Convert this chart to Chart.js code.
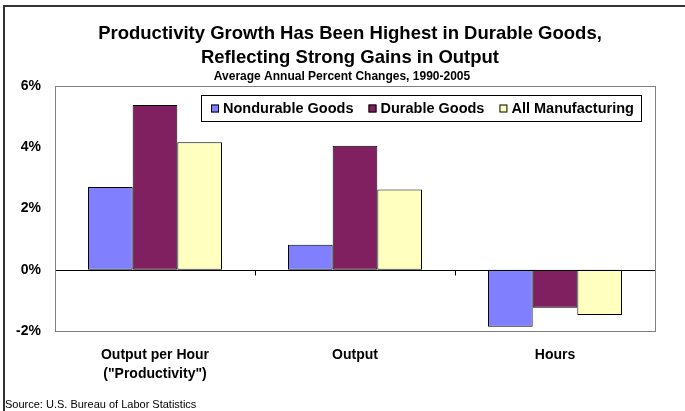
<!DOCTYPE html>
<html>
<head>
<meta charset="utf-8">
<script src="https://cdn.jsdelivr.net/npm/chart.js@4.4.1/dist/chart.umd.min.js"></script>
<style>
  html, body { margin: 0; padding: 0; background: #fff; }
  #wrap { width: 685px; height: 411px; position: relative; }
</style>
</head>
<body>
<div id="wrap"><canvas id="chart" width="685" height="411"></canvas></div>
<script>
// Categories and series (average annual percent change, 1990-2005)
const categories = [["Output per Hour", "(\"Productivity\")"], "Output", "Hours"];
const nondurable = [2.70, 0.82, -1.86];
const durable = [5.38, 4.05, -1.24];
const allManufacturing = [4.16, 2.62, -1.48];
const seriesNames = ["Nondurable Goods", "Durable Goods", "All Manufacturing"];
const seriesColors = ["#8080FF", "#802060", "#FFFFC0"];
const yTicks = [-2, 0, 2, 4, 6];

const titleLines = [
  "Productivity Growth Has Been Highest in Durable Goods,",
  "Reflecting Strong Gains in Output"
];
const subtitle = "Average Annual Percent Changes, 1990-2005";
const sourceNote = "Source: U.S. Bureau of Labor Statistics";

const FONT = "'Liberation Sans', Arial, Helvetica, sans-serif";
const NARROW = "'Liberation Sans Narrow', 'Arial Narrow', 'Liberation Sans', sans-serif";

// Titles, frame, category ticks, boxed legend and source line
const decorations = {
  id: 'decorations',
  beforeDraw(chart) {
    const c = chart.ctx;
    c.save();
    c.fillStyle = '#fff';
    c.fillRect(0, 0, chart.width, chart.height);
    // outer frame (top and left edges)
    c.strokeStyle = '#333';
    c.lineWidth = 2;
    c.beginPath();
    c.moveTo(4, chart.height);
    c.lineTo(4, 6);
    c.lineTo(chart.width, 6);
    c.stroke();
    c.restore();
  },
  afterDatasetsDraw(chart) {
    const c = chart.ctx;
    const a = chart.chartArea;
    const xs = chart.scales.x;
    const ys = chart.scales.y;
    c.save();
    // zero line
    const y0 = Math.round(ys.getPixelForValue(0)) + 0.5;
    c.strokeStyle = '#000';
    c.lineWidth = 1;
    c.beginPath();
    c.moveTo(a.left, y0);
    c.lineTo(a.right, y0);
    c.stroke();
    // category boundary ticks below the zero line
    const step = xs.getPixelForValue(1) - xs.getPixelForValue(0);
    for (let i = 1; i < categories.length; i++) {
      const x = Math.round(xs.getPixelForValue(i) - step / 2) + 0.5;
      c.beginPath();
      c.moveTo(x, y0);
      c.lineTo(x, y0 + 5);
      c.stroke();
    }
    // plot frame
    c.strokeStyle = '#808080';
    c.lineWidth = 1;
    c.strokeRect(Math.round(a.left) + 0.5, Math.round(a.top) + 0.5,
                 Math.round(a.right - a.left), Math.round(a.bottom - a.top));

    // legend box
    const lx = 201, ly = 95, lw = 440, lh = 26;
    c.fillStyle = '#fff';
    c.fillRect(lx, ly, lw, lh);
    c.strokeStyle = '#000';
    c.strokeRect(lx + 0.5, ly + 0.5, lw, lh);
    c.font = "bold 14.5px " + FONT;
    c.textBaseline = 'middle';
    c.textAlign = 'left';
    let x = lx + 10;
    const cy = ly + lh / 2 + 0.5;
    chart.data.datasets.forEach((ds, i) => {
      c.fillStyle = ds.backgroundColor;
      c.fillRect(x, cy - 4, 8, 8);
      c.strokeStyle = '#000';
      c.strokeRect(x + 0.5, cy - 3.5, 7, 7);
      c.fillStyle = '#000';
      c.fillText(ds.label, x + 12, cy);
      x += 12 + c.measureText(ds.label).width + 15;
    });

    // titles
    c.fillStyle = '#000';
    c.textAlign = 'center';
    c.textBaseline = 'alphabetic';
    c.font = "bold 18.5px " + FONT;
    c.fillText(titleLines[0], 350, 39);
    c.fillText(titleLines[1], 350, 63);
    c.font = "bold 12px " + NARROW;
    c.fillText(subtitle, 342, 79.5);

    // source note
    c.textAlign = 'left';
    c.font = "11px " + FONT;
    c.fillText(sourceNote, 5, 408);
    c.restore();
  }
};

const ctx = document.getElementById('chart').getContext('2d');
new Chart(ctx, {
  type: 'bar',
  data: {
    labels: categories,
    datasets: [
      { label: seriesNames[0], data: nondurable, backgroundColor: seriesColors[0] },
      { label: seriesNames[1], data: durable, backgroundColor: seriesColors[1] },
      { label: seriesNames[2], data: allManufacturing, backgroundColor: seriesColors[2] }
    ].map(d => Object.assign(d, { borderColor: '#000', borderWidth: 1, borderSkipped: false }))
  },
  options: {
    responsive: false,
    animation: false,
    layout: { padding: { left: 0, right: 30, top: 86, bottom: 0 } },
    datasets: { bar: { categoryPercentage: 0.67, barPercentage: 1.0 } },
    plugins: {
      legend: { display: false },
      title: { display: false },
      tooltip: { enabled: false }
    },
    scales: {
      x: {
        grid: { display: false, drawTicks: false },
        border: { display: false },
        ticks: {
          color: '#000',
          font: { family: FONT, size: 14, weight: 'bold', lineHeight: 1.35 },
          padding: 15,
          maxRotation: 0,
          autoSkip: false
        },
        afterFit(scale) { scale.height = 80; }
      },
      y: {
        min: -2,
        max: 6,
        afterBuildTicks(scale) { scale.ticks = yTicks.map(v => ({ value: v })); },
        grid: { display: false, drawTicks: false },
        border: { display: false },
        ticks: {
          color: '#000',
          font: { family: FONT, size: 14, weight: 'bold' },
          padding: 14,
          callback: v => v + '%'
        },
        afterFit(scale) { scale.width = 55; }
      }
    }
  },
  plugins: [decorations]
});
</script>
</body>
</html>
